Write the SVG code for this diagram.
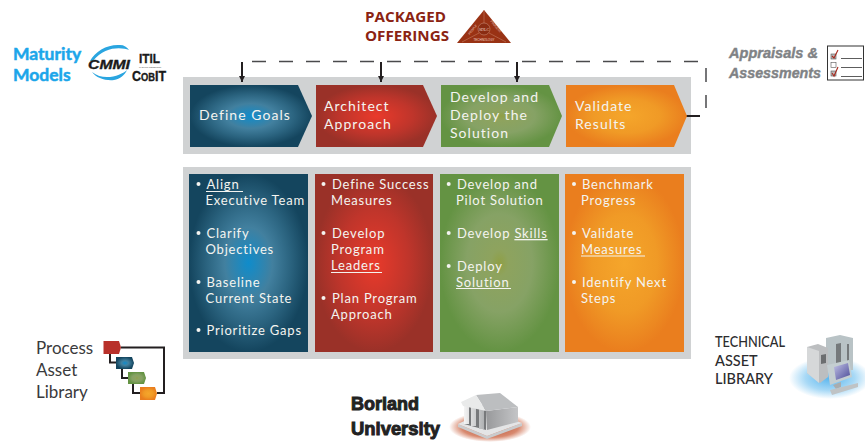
<svg xmlns="http://www.w3.org/2000/svg" width="865" height="442" viewBox="0 0 865 442">
<style>
.w{font-family:"Lato","Open Sans",sans-serif;font-size:13px;fill:#f4f4f0;letter-spacing:.8px}
.h{font-family:"Lato","Open Sans",sans-serif;font-size:14px;fill:#f4f4f0;letter-spacing:1.05px}
.u{stroke:#f4f4f0;stroke-width:1.2;fill:none}
.b{fill:#f4f4f0}
.panel{fill:#d0d2d3}
.m{font-family:"Lato",sans-serif;font-weight:700;font-size:17.5px;fill:#1ca6ea;stroke:#1ca6ea;stroke-width:.5}
.o{font-family:"Open Sans",sans-serif;font-weight:700;font-size:14.5px;fill:#8b2312}
.a{font-family:"Liberation Sans",sans-serif;font-weight:700;font-style:italic;font-size:14.5px;fill:#808285;stroke:#808285;stroke-width:.4}
.p{font-family:"Lato",sans-serif;font-size:17px;fill:#3a3a3c}
.t{font-family:"Lato",sans-serif;font-size:14.5px;fill:#2c2c2e;font-weight:500}
.bu{font-family:"Liberation Sans",sans-serif;font-weight:700;font-size:19px;fill:#222;stroke:#222;stroke-width:1}
.k{fill:none;stroke:#231f20;stroke-width:2}
.dash{fill:none;stroke:#4a4a4c;stroke-width:1.5;stroke-dasharray:14 13}
.lg{font-family:"Liberation Sans",sans-serif;font-weight:700;fill:#1a1a1a;stroke:#1a1a1a;stroke-width:.35}
</style>
<defs>
<radialGradient id="gb" cx=".5" cy=".5" r=".5"><stop offset="0" stop-color="#0f8ccb"/><stop offset=".4" stop-color="#42809f"/><stop offset=".7" stop-color="#2b6480"/><stop offset="1" stop-color="#14455e"/></radialGradient>
<radialGradient id="gr" cx=".5" cy=".5" r=".5"><stop offset="0" stop-color="#e93a2b"/><stop offset=".6" stop-color="#bf352b"/><stop offset="1" stop-color="#9a3128"/></radialGradient>
<radialGradient id="gg" cx=".5" cy=".5" r=".5"><stop offset="0" stop-color="#8f9f45"/><stop offset=".15" stop-color="#8ea35e"/><stop offset=".55" stop-color="#86a265"/><stop offset="1" stop-color="#649343"/></radialGradient>
<radialGradient id="go" cx=".5" cy=".5" r=".5"><stop offset="0" stop-color="#f5a62b"/><stop offset=".55" stop-color="#f09a26"/><stop offset="1" stop-color="#ea7e1e"/></radialGradient>
<radialGradient id="sr"><stop offset="0" stop-color="#b5482a"/><stop offset=".7" stop-color="#d88a70"/><stop offset="1" stop-color="#fff"/></radialGradient>
<radialGradient id="sb"><stop offset="0" stop-color="#58b5ee"/><stop offset=".6" stop-color="#a8d9f6"/><stop offset="1" stop-color="#fff"/></radialGradient>
<linearGradient id="mon" x1="0" y1="0" x2="1" y2="1"><stop offset="0" stop-color="#c3c3e6"/><stop offset="1" stop-color="#4a4a98"/></linearGradient>
<linearGradient id="st" x1="0" y1="0" x2="1" y2="0"><stop offset="0" stop-color="#f4f4f4"/><stop offset="1" stop-color="#b0b2b4"/></linearGradient>
<linearGradient id="sd" x1="0" y1="0" x2="1" y2="0"><stop offset="0" stop-color="#98999b"/><stop offset="1" stop-color="#c4c5c7"/></linearGradient>
<marker id="ah" markerUnits="userSpaceOnUse" markerWidth="7" markerHeight="6" refX="6" refY="3" orient="auto"><path d="M0 0L6 3L0 6z" fill="#231f20"/></marker>
</defs>

<rect class="panel" x="183" y="77" width="508" height="77"/>
<rect class="panel" x="183" y="167" width="508" height="192"/>

<g id="connectors">
<path class="dash" d="M252 61.5H700"/>
<path d="M706 68V82M706 95V108" fill="none" stroke="#4a4a4c" stroke-width="1.5"/>
<path d="M686 116H700" class="k"/>
<path d="M242 62V82" class="k" marker-end="url(#ah)"/>
<path d="M381 62V82" class="k" marker-end="url(#ah)"/>
<path d="M517 62V82" class="k" marker-end="url(#ah)"/>
</g>

<g id="step-define"><path d="M190 85H298L312 116L298 147H190z" fill="url(#gb)"/><text class="h" x="199" y="120">Define Goals</text></g>
<g id="step-architect"><path d="M316 85H423L437 116L423 147H316z" fill="url(#gr)"/><text class="h" x="324" y="111">Architect</text><text class="h" x="324" y="129">Approach</text></g>
<g id="step-develop"><path d="M441 85H549L562 116L549 147H441z" fill="url(#gg)"/><text class="h" x="450" y="102">Develop and</text><text class="h" x="450" y="120">Deploy the</text><text class="h" x="450" y="138">Solution</text></g>
<g id="step-validate"><path d="M566 85H674L687 116L674 147H566z" fill="url(#go)"/><text class="h" x="575" y="111">Validate</text><text class="h" x="575" y="129">Results</text></g>

<g id="col-define"><rect x="189" y="174" width="119" height="178" fill="url(#gb)"/>
<circle class="b" cx="198.5" cy="184" r="2"/><text class="w" x="206.5" y="189">Align</text><path class="u" d="M206 191.5H243"/><text class="w" x="205.5" y="205">Executive Team</text>
<circle class="b" cx="198.5" cy="233" r="2"/><text class="w" x="206.5" y="238">Clarify</text><text class="w" x="205.5" y="254">Objectives</text>
<circle class="b" cx="198.5" cy="282" r="2"/><text class="w" x="206.5" y="287">Baseline</text><text class="w" x="205.5" y="303">Current State</text>
<circle class="b" cx="198.5" cy="330" r="2"/><text class="w" x="206.5" y="335">Prioritize Gaps</text></g>

<g id="col-architect"><rect x="315" y="174" width="118" height="178" fill="url(#gr)"/>
<circle class="b" cx="323.5" cy="184" r="2"/><text class="w" x="332" y="189">Define Success</text><text class="w" x="331" y="205">Measures</text>
<circle class="b" cx="323.5" cy="233" r="2"/><text class="w" x="332" y="238">Develop</text><text class="w" x="331" y="254">Program</text><text class="w" x="331" y="270">Leaders</text><path class="u" d="M331 272.5H382"/>
<circle class="b" cx="323.5" cy="298" r="2"/><text class="w" x="332" y="303">Plan Program</text><text class="w" x="331" y="319">Approach</text></g>

<g id="col-develop"><rect x="440" y="174" width="119" height="178" fill="url(#gg)"/>
<circle class="b" cx="448.7" cy="184" r="2"/><text class="w" x="457" y="189">Develop and</text><text class="w" x="456" y="205">Pilot Solution</text>
<circle class="b" cx="448.7" cy="233" r="2"/><text class="w" x="457" y="238">Develop <tspan text-decoration="underline">Skills</tspan></text>
<circle class="b" cx="448.7" cy="266" r="2"/><text class="w" x="457" y="271">Deploy</text><text class="w" x="456" y="287">Solution</text><path class="u" d="M456 288.5H511"/></g>

<g id="col-validate"><rect x="565" y="174" width="119" height="178" fill="url(#go)"/>
<circle class="b" cx="574" cy="184" r="2"/><text class="w" x="582" y="189">Benchmark</text><text class="w" x="581" y="205">Progress</text>
<circle class="b" cx="574" cy="233" r="2"/><text class="w" x="582" y="238">Validate</text><text class="w" x="581" y="254">Measures</text><path class="u" d="M581 256H645"/>
<circle class="b" cx="574" cy="282" r="2"/><text class="w" x="582" y="287">Identify Next</text><text class="w" x="581" y="303">Steps</text></g>

<g id="maturity-models">
<text class="m" x="13" y="60">Maturity</text><text class="m" x="13" y="81">Models</text>
<path d="M90 61C95 51 108 44 120 45C124 45 127 47 129 50C122 47 104 46 93 61z" fill="#2aa5e0"/>
<path d="M92 72C96 78 106 81 114 80C120 79 125 75 127 70C122 75 104 82 92 72z" fill="#2aa5e0"/>
<text class="lg" x="88" y="69" font-style="italic" font-size="12.500" textLength="42" lengthAdjust="spacingAndGlyphs">CMMI</text>
<text class="lg" x="139" y="63" font-size="13.500" textLength="21" lengthAdjust="spacingAndGlyphs">ITIL</text>
<text x="139" y="67.500" font-family="Liberation Sans,sans-serif" font-size="2" fill="#333" textLength="22">IT Service Management</text>
<text class="lg" x="132" y="81" font-size="14" textLength="34" lengthAdjust="spacingAndGlyphs">C<tspan font-size="10.500">OB</tspan>IT</text>
</g>

<g id="packaged-offerings">
<text class="o" x="365" y="22" textLength="81" lengthAdjust="spacingAndGlyphs">PACKAGED</text><text class="o" x="365" y="41" textLength="84" lengthAdjust="spacingAndGlyphs">OFFERINGS</text>
<path d="M484 10L511 43H457z" fill="#993214"/>
<path d="M484 10V23M462 42L479 33M506 42L489 33" stroke="#c47a5e" stroke-width=".6" fill="none"/>
<circle cx="484" cy="29" r="6" fill="#8a2c12" stroke="#d09a84" stroke-width=".5"/>
<text x="484" y="31" text-anchor="middle" font-family="Liberation Serif,serif" font-size="4" fill="#f2d8cc">SDLC</text>
<text x="472" y="31" text-anchor="middle" font-family="Liberation Sans,sans-serif" font-size="3" fill="#f2d8cc" transform="rotate(-50 472 29)">PEOPLE</text>
<text x="495" y="27" text-anchor="middle" font-family="Liberation Sans,sans-serif" font-size="3" fill="#f2d8cc" transform="rotate(50 495 27)">PROCESS</text>
<text x="484" y="40.500" text-anchor="middle" font-family="Liberation Sans,sans-serif" font-size="3" fill="#f2d8cc">TECHNOLOGY</text>
</g>

<g id="appraisals">
<text class="a" x="729" y="58" textLength="89" lengthAdjust="spacingAndGlyphs">Appraisals &amp;</text><text class="a" x="729" y="78" textLength="92" lengthAdjust="spacingAndGlyphs">Assessments</text>
<rect x="827.500" y="46" width="36" height="34" fill="#fff" stroke="#333" stroke-width="1"/>
<path d="M841 58.500H862M841 67.500H862M841 76.500H862" stroke="#333" stroke-width=".8"/>
<rect x="831" y="54" width="5" height="5" fill="#bbb" stroke="#555" stroke-width=".6"/>
<rect x="831" y="62.500" width="5" height="5" fill="#fff" stroke="#555" stroke-width=".6"/>
<rect x="831" y="71" width="5" height="5" fill="#bbb" stroke="#555" stroke-width=".6"/>
<path d="M832 56L834 58L838 50M832 73L834 76L838 67" stroke="#a8281c" stroke-width="1.100" fill="none"/>
</g>

<g id="process-asset-library">
<text class="p" x="36" y="354">Process</text><text class="p" x="36" y="376">Asset</text><text class="p" x="36" y="398">Library</text>
<path class="k" d="M121 347.500H164V393H157M110 354V362.500H116M122 369V378H128M133 384V393H140"/>
<path d="M103.500 341H119L121 347.500L119 354H103.500z" fill="#b8302a"/>
<path d="M116 357H132L134 363L132 369H116z" fill="url(#gb)"/>
<path d="M128 372H144L146 378L144 384H128z" fill="url(#gg)"/>
<path d="M140 387H155L157 393.500L155 400H140z" fill="url(#go)"/>
</g>

<g id="technical-asset-library">
<text class="t" x="715" y="347" textLength="70" lengthAdjust="spacingAndGlyphs">TECHNICAL</text><text class="t" x="715" y="366">ASSET</text><text class="t" x="715" y="384">LIBRARY</text>
<ellipse cx="830" cy="378" rx="41" ry="21" fill="url(#sb)"/>
<path d="M826 338L840 335L853 338V370L826 372z" fill="#b9c3c6"/>
<path d="M836 344L841 343V368L836 369zM847 344L849 344V366L847 367z" fill="#75797b"/>
<path d="M807 347L818 344L828 348V377L820 383L807 373z" fill="#bcbec0"/>
<path d="M807 347L819 351V383L807 373z" fill="#d6d8d9"/>
<path d="M821 355L826 354V363L821 364z" fill="#6c6e70"/>
<path d="M827 365L849 360L852 377L830 385z" fill="#c4ced1"/>
<path d="M834 367L848 363L850 375L836 380z" fill="url(#mon)"/>
<path d="M833 385L841 382V387L836 389z" fill="#a9adaf"/>
<path d="M830 390L858 383V387L832 395z" fill="#bfc3c5"/>
</g>

<g id="borland-university">
<text class="bu" x="351" y="410" textLength="68" lengthAdjust="spacingAndGlyphs">Borland</text><text class="bu" x="351" y="435" textLength="89" lengthAdjust="spacingAndGlyphs">University</text>
<ellipse cx="490" cy="427" rx="41" ry="15" fill="url(#sr)"/>
<path d="M458 424L487 436L522 423V426L487 439L458 427z" fill="#c9cbcd"/>
<path d="M458 424L487 410L522 423L487 436z" fill="#e4e5e6"/>
<path d="M486 411L518 407V422L487 430z" fill="url(#sd)"/>
<path d="M464 405H486V430L464 424z" fill="#77797b"/>
<path d="M464 405H469V424H464zM471 405H476V426H471zM479 405H484V429H479z" fill="url(#st)"/>
<path d="M476 395L500 393L518 407L486 411z" fill="#bcbec0"/>
<path d="M461 402L476 395L486 411L463 406z" fill="#e9eaea"/>
</g>
</svg>
